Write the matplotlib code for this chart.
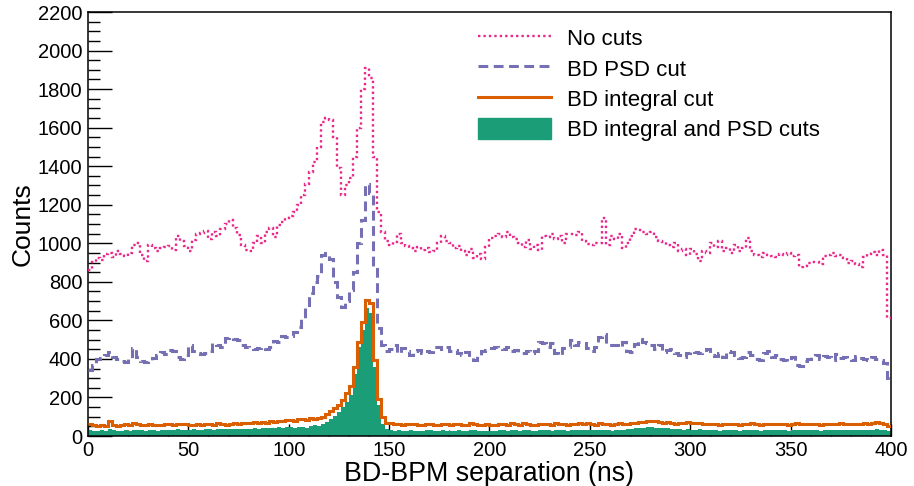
import numpy as np
import matplotlib
matplotlib.use("Agg")
import matplotlib.pyplot as plt
from matplotlib.ticker import MultipleLocator
from matplotlib.lines import Line2D
from matplotlib.patches import Patch

# Dark2 colours, as in the ROOT canvas
PINK = "#e7298a"
PURPLE = "#7570b3"
ORANGE = "#d95f02"
GREEN = "#1b9e77"

# 200 bins of 2 ns, 0 - 400 ns
bin_edges = np.arange(0, 402, 2)

no_cuts = [
    860, 905, 925, 915, 945, 950, 930, 960, 945, 935,
    950, 990, 1000, 940, 910, 990, 975, 960, 975, 980,
    985, 965, 1040, 1010, 985, 960, 1015, 1050, 1055, 1065,
    1020, 1060, 1040, 1075, 1100, 1120, 1080, 1045, 990, 965,
    960, 1000, 1040, 1000, 1060, 1080, 1030, 1095, 1110, 1130,
    1140, 1160, 1200, 1250, 1310, 1370, 1420, 1500, 1630, 1650,
    1640, 1550, 1390, 1250, 1300, 1340, 1450, 1600, 1800, 1910,
    1860, 1450, 1160, 1060, 1010, 990, 1005, 1050, 1000, 985,
    975, 960, 980, 965, 975, 955, 960, 1000, 1040, 1010,
    1000, 975, 985, 960, 940, 970, 925, 945, 920, 980,
    1025, 1040, 1050, 1030, 1056, 1030, 1020, 1000, 980, 1015,
    970, 990, 965, 1040, 1030, 1050, 1020, 1040, 1000, 1050,
    1050, 1045, 1060, 1010, 995, 990, 1000, 1000, 1130, 990,
    1040, 1020, 1050, 975, 1000, 1040, 1075, 1070, 1060, 1050,
    1060, 1030, 1010, 1005, 990, 980, 1000, 960, 970, 940,
    970, 945, 910, 960, 950, 1000, 980, 1010, 960, 975,
    950, 990, 960, 975, 1025, 960, 940, 930, 950, 940,
    935, 930, 945, 940, 950, 935, 940, 875, 880, 900,
    905, 905, 895, 935, 940, 950, 935, 940, 925, 900,
    910, 890, 875, 930, 945, 955, 940, 965, 940, 610,
]

psd_cut = [
    340, 370, 400, 405, 420, 435, 410, 400, 390, 385,
    400, 455, 410, 390, 385, 395, 405, 420, 435, 425,
    445, 440, 410, 400, 420, 470, 440, 430, 425, 430,
    440, 480, 470, 460, 510, 515, 505, 500, 470, 460,
    455, 450, 455, 460, 450, 460, 495, 490, 520, 515,
    520, 540, 565, 610, 680, 740, 800, 830, 940, 950,
    920, 800, 720, 670, 700, 760, 850, 1000, 1120, 1310,
    1260, 880, 560, 470, 440, 450, 470, 430, 455, 440,
    420, 440, 445, 430, 440, 435, 460, 460, 450, 460,
    440, 445, 430, 420, 435, 410, 395, 420, 440, 445,
    455, 460, 455, 450, 460, 440, 445, 435, 430, 440,
    430, 440, 490, 480, 460, 485, 430, 420, 455, 460,
    500, 470, 490, 480, 455, 440, 460, 515, 530, 470,
    470, 470, 460, 487, 440, 435, 475, 505, 490, 480,
    470, 450, 470, 435, 445, 450, 430, 420, 410, 430,
    440, 435, 430, 445, 450, 420, 415, 430, 410, 440,
    435, 420, 405, 410, 435, 420, 400, 395, 430, 440,
    410, 420, 400, 395, 390, 410, 370, 365, 390, 400,
    410, 420, 400, 415, 410, 395, 425, 405, 410, 400,
    395, 415, 405, 400, 395, 410, 400, 395, 380, 300,
]

integral_cut = [
    60, 55, 50, 55, 50, 80, 55, 50, 55, 60,
    55, 65, 60, 55, 55, 60, 58, 55, 55, 62,
    60, 58, 60, 62, 60, 56, 58, 60, 55, 62,
    60, 58, 65, 62, 58, 62, 66, 62, 65, 68,
    68, 72, 66, 75, 70, 78, 75, 80, 78, 85,
    85, 80, 88, 90, 82, 92, 88, 95, 100, 115,
    130, 145, 160, 185, 225, 260, 360, 490, 590, 705,
    690, 395, 190, 100, 70, 65, 60, 62, 58, 60,
    62, 60, 55, 58, 62, 60, 58, 56, 62, 60,
    58, 60, 62, 55, 58, 68, 60, 55, 56, 60,
    58, 55, 60, 62, 58, 65, 62, 58, 68, 60,
    55, 58, 60, 62, 60, 58, 65, 60, 62, 58,
    60, 62, 65, 60, 70, 60, 58, 66, 62, 60,
    58, 62, 66, 60, 64, 68, 70, 72, 75, 78,
    78, 76, 72, 70, 74, 68, 62, 70, 66, 72,
    68, 66, 70, 62, 64, 60, 62, 58, 62, 60,
    64, 60, 58, 62, 60, 65, 62, 58, 60, 64,
    62, 60, 64, 60, 58, 62, 66, 60, 64, 62,
    60, 62, 58, 62, 60, 64, 62, 66, 62, 60,
    64, 62, 60, 66, 64, 68, 72, 66, 62, 50,
]

both_cuts = [
    30, 28, 26, 30, 28, 35, 30, 26, 28, 30,
    28, 30, 32, 30, 28, 32, 30, 28, 30, 32,
    32, 30, 34, 32, 30, 32, 34, 32, 30, 34,
    34, 32, 35, 34, 36, 34, 38, 36, 35, 38,
    38, 40, 38, 42, 40, 44, 42, 45, 44, 46,
    45, 42, 46, 48, 44, 50, 55, 52, 60, 75,
    90, 105, 125, 150, 175, 215, 320, 460, 550, 665,
    640, 360, 160, 60, 35, 30, 28, 30, 27, 28,
    30, 28, 26, 28, 30, 29, 27, 26, 30, 28,
    27, 28, 30, 26, 28, 32, 29, 26, 27, 28,
    28, 26, 29, 30, 28, 31, 30, 28, 32, 29,
    26, 28, 29, 30, 29, 28, 31, 29, 30, 28,
    29, 30, 32, 30, 33, 30, 29, 32, 30, 29,
    28, 30, 32, 33, 35, 38, 40, 42, 44, 45,
    45, 44, 42, 40, 41, 38, 34, 36, 33, 35,
    33, 32, 34, 30, 31, 29, 30, 28, 30, 29,
    31, 29, 28, 30, 29, 31, 30, 28, 29, 31,
    30, 29, 31, 29, 28, 30, 32, 29, 31, 30,
    29, 30, 28, 30, 29, 31, 30, 32, 30, 29,
    31, 30, 29, 32, 31, 33, 35, 32, 30, 24,
]

plt.rcParams["font.family"] = ["Liberation Sans", "DejaVu Sans"]

fig = plt.figure(figsize=(9.14, 4.86), dpi=100)
ax = fig.add_axes([88 / 914, 1 - 436 / 486, (891 - 88) / 914, (436 - 12) / 486])

ax.stairs(both_cuts, bin_edges, fill=True, color=GREEN, zorder=2)
ax.stairs(integral_cut, bin_edges, baseline=None, color=ORANGE, linewidth=2.2, zorder=3)
ax.stairs(psd_cut, bin_edges, baseline=None, color=PURPLE, linewidth=2.2,
          linestyle=(0, (3.2, 1.8)), zorder=4)
ax.stairs(no_cuts, bin_edges, baseline=None, color=PINK, linewidth=1.7,
          linestyle=(0, (1, 1.3)), zorder=5)

ax.set_xlim(0, 400)
ax.set_ylim(0, 2200)

ax.xaxis.set_major_locator(MultipleLocator(50))
ax.xaxis.set_minor_locator(MultipleLocator(10))
ax.yaxis.set_major_locator(MultipleLocator(200))
ax.yaxis.set_minor_locator(MultipleLocator(50))

ax.tick_params(axis="both", which="both", direction="in", width=1.0, labelsize=14.5)
ax.tick_params(axis="y", which="major", length=17, pad=4)
ax.tick_params(axis="y", which="minor", length=8.5)
ax.tick_params(axis="x", which="major", length=8.5, pad=3.5)
ax.tick_params(axis="x", which="minor", length=4.3)
for side in ax.spines.values():
    side.set_linewidth(1.1)

ax.set_xlabel("BD-BPM separation (ns)", fontsize=19.3, labelpad=0.5)
ax.set_ylabel("Counts", fontsize=19, labelpad=2)

handles = [
    Line2D([], [], color=PINK, linewidth=1.7, linestyle=(0, (1, 1.3))),
    Line2D([], [], color=PURPLE, linewidth=2.2, linestyle=(0, (3.2, 1.8))),
    Line2D([], [], color=ORANGE, linewidth=2.2),
    Patch(facecolor=GREEN, edgecolor=GREEN),
]
labels = ["No cuts", "BD PSD cut", "BD integral cut", "BD integral and PSD cuts"]
fig.legend(handles, labels, loc="upper left", bbox_to_anchor=(478 / 914, 1 - 27 / 486),
           frameon=False, fontsize=16, handlelength=3.3, handleheight=1.1,
           handletextpad=0.7, labelspacing=0.32, borderpad=0, borderaxespad=0)

fig.savefig("out.png", dpi=100)
